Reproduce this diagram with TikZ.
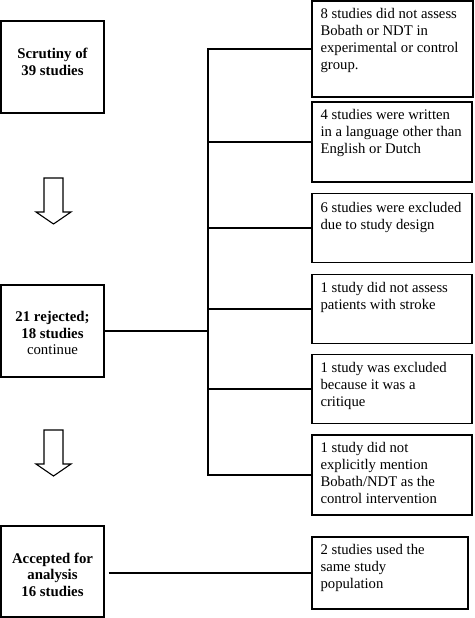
\documentclass[tikz,border=0pt]{standalone}
\usepackage{fontspec}
\setmainfont{Liberation Serif}
\begin{document}
\begin{tikzpicture}[x=1pt,y=-1pt,
  box/.style={draw, line width=1.3pt, inner sep=0pt},
  lbox/.style={box, minimum width=103pt},
  ltxt/.style={inner sep=0pt, align=center, font=\fontsize{14.8}{16.5}\selectfont\bfseries},
  rbox/.style={box, minimum width=160pt},
  txt/.style={font=\fontsize{14.7}{17}\selectfont, inner sep=0pt, align=left, anchor=north west},
  con/.style={line width=1.5pt},
  barrow/.style={draw, line width=1.1pt, fill=white, line join=miter},
  pics/blockarrow/.style={code={\draw[barrow] (-9.5,0) -- (9.5,0) -- (9.5,34) -- (17.5,34) -- (0,46) -- (-17.5,34) -- (-9.5,34) -- cycle;}}]
\useasboundingbox (0,0) rectangle (474,618);
% left column
\node[lbox, minimum height=92pt] (scr) at (52.5,67) {};
\node[ltxt] (scrt) at ([yshift=5pt]scr.center) {Scrutiny of\\39 studies};
\node[lbox, minimum height=92pt] (rej) at (52.5,331) {};
\node[ltxt] (rejt) at ([yshift=-2pt]rej.center) {21 rejected;\\18 studies\\{\mdseries continue}};
\node[lbox, minimum height=91pt] (acc) at (52.5,571.5) {};
\node[ltxt] (acct) at ([yshift=-3pt]acc.center) {Accepted for\\analysis\\16 studies};
\pic at (53.5,178) {blockarrow};
\pic at (53.5,430) {blockarrow};
% right column
\node[rbox, minimum width=161pt, minimum height=96pt] (r1) at (392.5,49) {};
\node[rbox, minimum height=80pt] (r2) at (392,142) {};
\node[rbox, minimum height=69pt] (r3) at (392,228) {};
\node[rbox, minimum height=69pt] (r4) at (392,309) {};
\node[rbox, minimum height=69pt] (r5) at (392,389) {};
\node[rbox, minimum height=80pt] (r6) at (392,475) {};
\node[box, minimum width=156pt, minimum height=72pt] (r7) at (390,573) {};
\node[txt] (t1) at ([xshift=9pt,yshift=-8pt]r1.north west) {8 studies did not assess\\Bobath or NDT in\\experimental or control\\group.};
\node[txt] (t2) at ([xshift=9pt,yshift=-8pt]r2.north west) {4 studies were written\\in a language other than\\English or Dutch};
\node[txt] (t3) at ([xshift=9pt,yshift=-9pt]r3.north west) {6 studies were excluded\\due to study design};
\node[txt] (t4) at ([xshift=9pt,yshift=-8pt]r4.north west) {1 study did not assess\\patients with stroke};
\node[txt] (t5) at ([xshift=9pt,yshift=-8pt]r5.north west) {1 study was excluded\\because it was a\\critique};
\node[txt] (t6) at ([xshift=9pt,yshift=-8pt]r6.north west) {1 study did not\\explicitly mention\\Bobath/NDT as the\\control intervention};
\node[txt] (t7) at ([xshift=9pt,yshift=-8pt]r7.north west) {2 studies used the\\same study\\population};
% connectors
\coordinate (bus) at (208,0);
\draw[con] (r1.west) -| (r6.west -| bus) -- (r6.west);
\foreach \i in {2,...,5} \draw[con] (r\i.west) -- (r\i.west -| bus);
\draw[line width=2.1pt] (r2.west -| bus) -- (rej.east -| bus);
\draw[con] (rej.east) -- (rej.east -| bus);
\draw[con, shorten <=4pt] (acc.east |- r7.west) -- (r7.west);
\end{tikzpicture}
\end{document}
